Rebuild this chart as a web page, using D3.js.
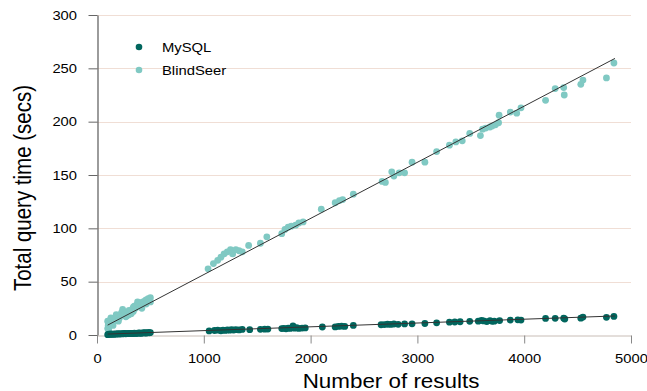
<!DOCTYPE html>
<html>
<head>
<meta charset="utf-8">
<script src="https://cdn.jsdelivr.net/npm/d3@7"></script>
<style>
  body { margin: 0; background: #fff; }
  text { font-family: "Liberation Sans", Arial, sans-serif; fill: #000; }
</style>
</head>
<body>
<script>
// data: [number of results, seconds]
const mysqlPoints = [
  [100,0.3],[110,0.8],[120,0.5],[130,1.0],[140,0.6],[150,0.9],[160,0.7],[170,1.1],[180,0.8],[190,1.0],
  [200,1.2],[210,0.9],[220,1.1],[230,1.3],[240,1.0],[250,1.2],[260,1.4],[270,1.1],[280,1.3],[290,1.2],
  [300,1.5],[310,1.3],[320,1.4],[330,1.6],[340,1.4],[350,1.7],[360,1.5],[370,1.6],[380,1.8],[390,1.7],
  [400,1.9],[410,1.6],[420,1.8],[430,2.0],[440,1.9],[450,2.1],[460,1.8],[470,2.0],[480,2.2],[490,2.1],[500,2.3],
  [1050,3.8],[1100,4.2],[1130,4.5],[1160,4.0],[1180,4.6],[1200,4.3],[1220,4.8],[1240,4.5],[1260,4.9],
  [1280,4.6],[1300,5.0],[1330,4.8],[1360,5.2],[1430,5.0],[1530,5.3],[1570,5.5],[1600,5.6],[1730,6.0],
  [1750,6.3],[1770,5.8],[1790,6.5],[1810,6.2],[1835,8.5],[1850,6.4],[1870,6.8],[1890,6.2],[1920,6.5],[1950,6.6],
  [2110,7.5],[2230,7.6],[2260,8.0],[2290,8.3],[2320,8.0],[2400,9.0],[2660,9.6],[2690,9.8],[2720,10.1],
  [2750,9.9],[2780,10.3],[2820,10.0],[2880,10.4],[2950,10.5],[3070,10.8],[3180,11.4],[3300,12.0],
  [3350,12.2],[3400,12.4],[3490,12.8],[3570,13.0],[3600,13.8],[3620,13.2],[3650,12.6],[3680,13.4],
  [3700,12.8],[3720,13.0],[3770,13.5],[3870,14.0],[3940,14.2],[3970,14.0],[4200,15.5],[4290,15.6],
  [4370,15.8],[4380,15.0],[4530,15.8],[4550,16.8],[4770,16.6],[4840,17.4]
];

const blindseerPoints = [
  [100,6],[100,13],[105,9],[110,11],[115,8],[120,12],[125,14],[130,10],[140,12],[150,15],
  [160,13],[170,16],[180,14],[190,17],[200,18],[210,16],[220,19],[230,21],[240,20],[250,22],
  [260,19],[270,21],[280,18],[290,20],[300,19],[310,22],[320,20],[330,24],[340,26],[350,27],
  [360,25],[370,28],[380,27],[390,29],[400,28],[410,30],[420,29],[430,31],[440,30],[450,32],
  [460,33],[470,31],[480,34],[490,33],[500,35],
  [110,4],[130,16],[150,9],[180,19],[200,13],[240,24],[270,17],[300,23],[340,22],[380,31],[420,25],[460,29],[500,31],
  [1040,62],[1090,67],[1130,70],[1160,73],[1190,76],[1220,78],[1250,80],[1270,76],[1300,80],
  [1330,79],[1360,78],[1420,84],[1530,86],[1590,92],[1730,95],[1760,99],[1790,101],[1820,102],
  [1860,103],[1890,105],[1930,106],[2100,118],[2230,124],[2270,126],[2300,127],[2400,132],
  [2670,144],[2700,143],[2760,153],[2780,149],[2830,152],[2880,152],[2950,162],[3070,162],
  [3180,172],[3300,178],[3360,181],[3420,182],[3490,189],[3590,187],[3610,193],[3640,194],
  [3680,195],[3700,196],[3730,197],[3760,199],[3765,206],[3870,209],[3930,208],[3970,213],
  [4200,220],[4290,231],[4370,232],[4375,225],[4530,235],[4550,239],[4770,241],[4840,255]
];

// fitted lines [intercept, slope] and the range they cover
const fitRange = [100, 4850];
const mysqlFit = [0.53, 0.00357];
const blindseerFit = [4.0, 0.05264];

const xTicks = [0, 1000, 2000, 3000, 4000, 5000];
const yTicks = [0, 50, 100, 150, 200, 250, 300];
const seriesNames = ['MySQL', 'BlindSeer'];
const seriesColors = ['#01665e', '#80c9c3'];

const width = 647, height = 391;
const stretch = 1.17;

const svg = d3.select('body').append('svg')
  .attr('width', width)
  .attr('height', height);

const x = d3.scaleLinear().domain([0, 5000]).range([97, 631]);
const y = d3.scaleLinear().domain([0, 300]).range([335, 15]);

// horizontal grid
svg.append('g')
  .selectAll('line')
  .data(yTicks.filter(d => d > 0))
  .join('line')
  .attr('x1', x(0))
  .attr('x2', x(5000))
  .attr('y1', d => Math.round(y(d)) + 0.5)
  .attr('y2', d => Math.round(y(d)) + 0.5)
  .attr('stroke', '#f0ded5')
  .attr('stroke-width', 1);

// x axis
const xAxis = svg.append('g')
  .attr('transform', `translate(0, ${y(0) + 0.5})`)
  .call(d3.axisBottom(x).tickValues(xTicks).tickFormat(d3.format('d'))
    .tickSize(8).tickSizeOuter(0).tickPadding(11));
xAxis.select('.domain').attr('stroke', '#c8bdb6');
xAxis.selectAll('.tick line').attr('stroke', '#888');
xAxis.selectAll('text')
  .attr('font-size', 12.6)
  .attr('transform', `scale(${stretch},1)`)
  .attr('x', 0);

// y axis
const yAxis = svg.append('g')
  .attr('transform', `translate(${x(0) + 0.5}, 0)`)
  .call(d3.axisLeft(y).tickValues(yTicks).tickFormat(d3.format('d')).tickSize(9).tickSizeOuter(0));
yAxis.select('.domain').attr('stroke', '#666').attr('stroke-width', 1.3);
yAxis.selectAll('.tick line').attr('stroke', '#666');
yAxis.selectAll('text')
  .attr('font-size', 12.6)
  .attr('x', 0)
  .attr('transform', `translate(-20.5,0) scale(${stretch},1)`);

// points
const drawPoints = (pts, color) => {
  svg.append('g')
    .selectAll('circle')
    .data(pts)
    .join('circle')
    .attr('cx', d => x(d[0]))
    .attr('cy', d => y(d[1]))
    .attr('r', 3.4)
    .attr('fill', color);
};
drawPoints(blindseerPoints, seriesColors[1]);
drawPoints(mysqlPoints, seriesColors[0]);

// fit lines
const line = d3.line()
  .x(d => x(d[0]))
  .y(d => y(d[1]));
[mysqlFit, blindseerFit].forEach(f => {
  svg.append('path')
    .datum(fitRange.map(v => [v, f[0] + f[1] * v]))
    .attr('fill', 'none')
    .attr('stroke', '#333')
    .attr('stroke-width', 1)
    .attr('d', line);
});

// legend
const legend = svg.append('g');
seriesNames.forEach((name, i) => {
  const ly = 47 + i * 23;
  legend.append('circle')
    .attr('cx', 139)
    .attr('cy', ly)
    .attr('r', 3.3)
    .attr('fill', seriesColors[i]);
  legend.append('text')
    .attr('transform', `translate(162, ${ly}) scale(1.14,1)`)
    .attr('dy', '0.36em')
    .attr('font-size', 13)
    .text(name);
});

// axis titles
svg.append('text')
  .attr('transform', `translate(391, 388) scale(1.12,1)`)
  .attr('text-anchor', 'middle')
  .attr('font-size', 20)
  .text('Number of results');

svg.append('text')
  .attr('transform', `translate(31, 188) scale(1.15,1) rotate(-90)`)
  .attr('text-anchor', 'middle')
  .attr('font-size', 20.5)
  .text('Total query time (secs)');
</script>
</body>
</html>
